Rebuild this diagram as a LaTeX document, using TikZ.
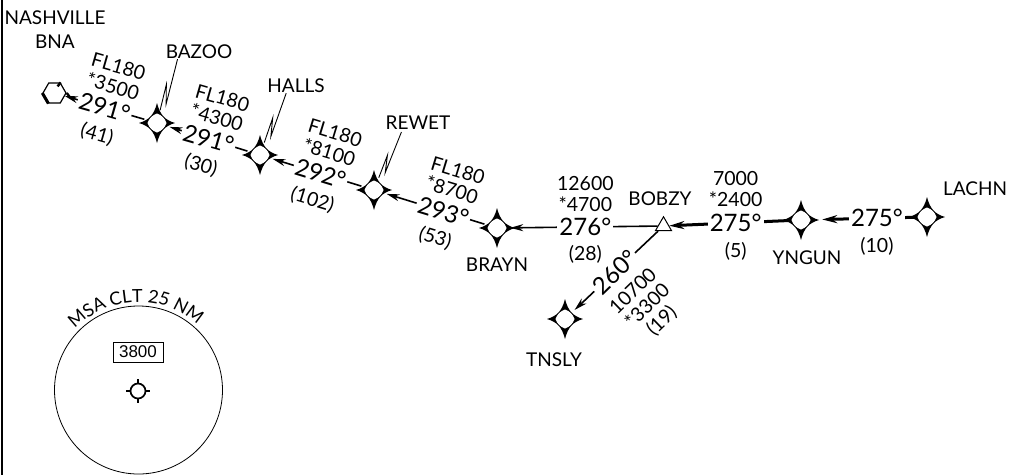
\documentclass[tikz,border=0pt]{standalone}
\usepackage{fontspec}
\setmainfont{Lato}
\newfontfamily\boxFont{Liberation Sans}
\usetikzlibrary{shapes.geometric,arrows.meta,calc,decorations.text}
\tikzset{
	fixNode/.style={circle,inner sep=0pt,minimum size=26pt},
	fixStar/.pic={
		\fill (0,-20) .. controls (3,-8) and (8,-3) .. (18,0) .. controls (8,3) and (3,8) .. (0,20)
			.. controls (-3,8) and (-8,3) .. (-18,0) .. controls (-8,-3) and (-3,-8) .. (0,-20) -- cycle;
		\fill[white] (9.5,0) .. controls (8,4.5) and (4.5,8) .. (0,9.5) .. controls (-4.5,8) and (-8,4.5) .. (-9.5,0)
			.. controls (-8,-4.5) and (-4.5,-8) .. (0,-9.5) .. controls (4.5,-8) and (8,-4.5) .. (9.5,0) -- cycle;
	},
	nameText/.style={inner sep=0pt,font=\fontsize{19}{21}\selectfont},
	altText/.style={inner sep=0pt,align=center,font=\fontsize{19.5}{20.5}\selectfont},
	altBelow/.style={altText,inner ysep=3pt},
	courseText/.style={inner xsep=2pt,inner ysep=6pt,fill=white,font=\fontsize{24}{24}\selectfont},
	arrowLine/.style={draw,line width=1.6pt,-{Stealth[length=13pt,width=7pt]}},
	arrowHeavy/.style={draw,line width=3pt,-{Stealth[length=15pt,width=8pt]}},
	boltLine/.style={draw,line width=0.9pt,to path={
		-- ($(\tikztostart)!.7!(\tikztotarget)+(3,0)$) -- ($(\tikztostart)!.4!(\tikztotarget)+(-3,0)$) -- (\tikztotarget)}},
}
\begin{document}
\begin{tikzpicture}[x=1pt,y=-1pt]
	\useasboundingbox (0,0) rectangle (1010,475);
	\draw[line width=2.4pt] (2,0) -- (2,475);
	%fixes
	\foreach \fixName/\fixPos in {bazoo/{157,123},halls/{260,155},rewet/{374,190},brayn/{497,228},yngun/{801,220},lachn/{927,217},tnsly/{565,319}}{
		\pic at (\fixPos) {fixStar};
		\node[fixNode](\fixName) at (\fixPos) {};
	}
	\node[regular polygon,regular polygon sides=6,draw,line width=1.2pt,inner sep=0pt,minimum size=23pt](nashville) at (54.5,93) {};
	\draw[line width=3pt] (nashville.corner 3) -- (nashville.corner 4);
	\draw[line width=2.4pt] (nashville.corner 1) -- ++(-3,4);
	\draw[line width=2.4pt] (nashville.corner 6) -- ++(3,4);
	\node[regular polygon,regular polygon sides=3,draw,fill=white,line width=1pt,inner sep=0pt,minimum size=18.5pt](bobzy) at (663.5,226) {};
	%names
	\node[nameText,align=center](nashvilleLabel) at (55,30) {NASHVILLE\\[3pt]BNA};
	\node[nameText](bazooLabel) at (199,52) {BAZOO};
	\node[nameText](hallsLabel) at (296,86) {HALLS};
	\node[nameText](rewetLabel) at (418,123) {REWET};
	\node[nameText](braynLabel) at (497,265) {BRAYN};
	\node[nameText](bobzyLabel) at (660,199) {BOBZY};
	\node[nameText](tnslyLabel) at (554,360) {TNSLY};
	\node[nameText](yngunLabel) at (807,258) {YNGUN};
	\node[nameText](lachnLabel) at (975,189) {LACHN};
	%arrows
	\path[arrowLine](bazoo)--node[courseText,rotate=-16,pos=.5](course1){291°}(nashville);
	\path[arrowLine](halls)--node[courseText,rotate=-16,pos=.5](course2){291°}(bazoo);
	\path[arrowLine](rewet)--node[courseText,rotate=-17,pos=.46](course3){292°}(halls);
	\path[arrowLine](brayn)--node[courseText,rotate=-17,pos=.42](course4){293°}(rewet);
	\path[arrowLine](bobzy)--node[courseText,pos=.49](course5){276°}(brayn);
	\path[arrowLine](bobzy)--node[courseText,rotate=44,pos=.52](course6){260°}(tnsly);
	\path[arrowHeavy](yngun)--node[courseText,pos=.44](course7){275°}(bobzy);
	\path[arrowHeavy,shorten >=8pt](lachn)--node[courseText,pos=.37](course8){275°}(yngun);
	%altitudes
	\node[altText,rotate=-16,anchor=south,xshift=2pt] at (course1.north) {FL180\\*3500};
	\node[altBelow,rotate=-16,anchor=north] at (course1.south) {(41)};
	\node[altText,rotate=-16,anchor=south,xshift=2pt] at (course2.north) {FL180\\*4300};
	\node[altBelow,rotate=-16,anchor=north] at (course2.south) {(30)};
	\node[altText,rotate=-17,anchor=south,xshift=2pt] at (course3.north) {FL180\\*8100};
	\node[altBelow,rotate=-17,anchor=north] at (course3.south) {(102)};
	\node[altText,rotate=-17,anchor=south,xshift=2pt] at (course4.north) {FL180\\*8700};
	\node[altBelow,rotate=-17,anchor=north] at (course4.south) {(53)};
	\node[altText,anchor=south] at (course5.north) {12600\\*4700};
	\node[altBelow,anchor=north] at (course5.south) {(28)};
	\node[altBelow,rotate=44,anchor=north] at (course6.south) {10700\\*3300\\(19)};
	\node[altText,anchor=south] at (course7.north) {7000\\*2400};
	\node[altBelow,anchor=north] at (course7.south) {(5)};
	\node[altBelow,anchor=north] at (course8.south) {(10)};
	%bolts
	\draw[boltLine] ([xshift=12pt]bazooLabel.south west) to (bazoo);
	\draw[boltLine] ([xshift=19pt]hallsLabel.south west) to (halls);
	\draw[boltLine] ([xshift=16pt,yshift=-2pt]rewetLabel.south west) to (rewet);
	%msa
	\node[circle,draw,line width=0.8pt,inner sep=0pt,minimum size=168pt](msaCircle) at (138.5,390) {};
	\path[decorate,decoration={text along path,text align=center,text={|\fontsize{18}{18}\selectfont|MSA CLT 25 NM}}]
		(msaCircle.center) ++(152:88pt) arc[start angle=152,end angle=32,radius=88pt];
	\node[draw,line width=0.8pt,inner sep=0pt,minimum width=50pt,minimum height=20pt,font=\boxFont\fontsize{17}{17}\selectfont](msaBox) at (138,352) {3800};
	\node[circle,draw,line width=1.7pt,inner sep=0pt,minimum size=15pt](airport) at (138,391) {};
	\draw[line width=1.5pt] (airport.north) -- ++(0,-4);
	\draw[line width=1.5pt] (airport.south) -- ++(0,4);
	\draw[line width=1.5pt] (airport.west) -- ++(-4,0);
	\draw[line width=1.5pt] (airport.east) -- ++(4,0);
\end{tikzpicture}
\end{document}
